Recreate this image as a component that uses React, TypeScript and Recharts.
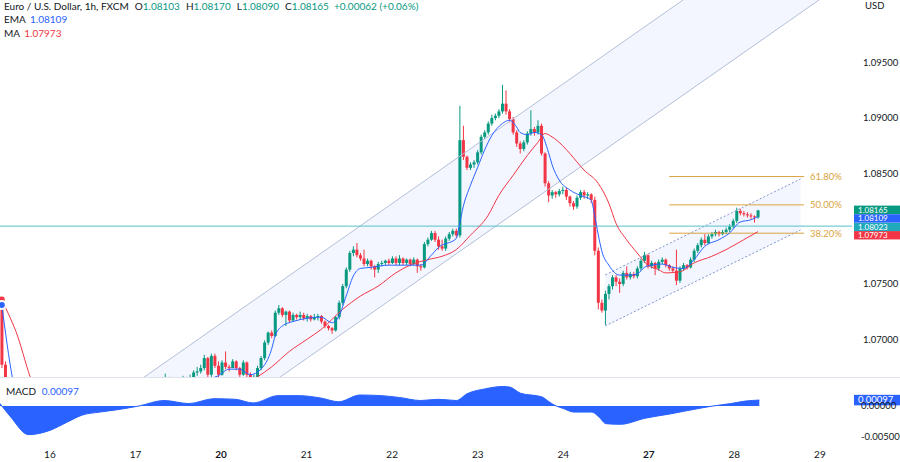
import React from "react";
import { ComposedChart, Bar, Line, Area, XAxis, YAxis, ReferenceLine } from "recharts";

// Prices are kept in pip offsets: price = 1 + value / 10000 (816.5 -> 1.08165)
const FIRST_OPEN = 733;

const closes = [
  677, 648, 632, 618, 600, 585, 570, 560, 556, 560, 566, 575, 578, 580,
  // 16
  582, 585, 588, 590, 586, 583, 590, 600, 612, 620, 618, 610, 600, 592, 585, 590, 598, 605, 612, 618, 622, 625, 628, 630,
  // 17
  632, 636, 640, 645, 650, 655, 658, 660, 664, 661, 663, 660, 662, 664, 662, 665, 670, 671, 674, 683, 668, 685, 676, 668,
  // 20
  679, 675, 674, 680, 674, 668, 679, 668, 662, 666, 674, 683, 697, 706, 703, 724, 728, 722, 725, 717, 722, 720, 722, 719,
  // 21
  721, 718, 720, 721, 716, 712, 710, 708, 720, 733, 748, 763, 778, 781, 776, 773, 768, 771, 766, 763, 768, 769, 771, 769,
  // 22
  773, 769, 773, 769, 772, 768, 772, 766, 765, 786, 790, 796, 790, 784, 782, 791, 795, 798, 794, 880, 865, 855, 858, 860,
  // 23
  869, 883, 887, 895, 900, 902, 906, 913, 906, 899, 887, 877, 872, 878, 886, 890, 887, 893, 868, 841, 830, 833, 831, 834,
  // 24
  835, 829, 823, 820, 828, 833, 830, 831, 826, 780, 733, 726, 741, 748, 756, 752, 750, 760, 756, 759, 757, 764, 771, 776,
  // 27
  766, 769, 764, 770, 772, 767, 764, 762, 753, 764, 767, 765, 772, 780, 785, 790, 787, 793, 795, 797, 795, 797, 799, 802,
  // 28
  807, 816, 814, 813, 812, 811, 810.3, 816.5,
];

const highs = [
  738, 680, 650, 635, 620, 602, 588, 574, 564, 565, 570, 578, 582, 584,
  586, 589, 592, 594, 592, 588, 593, 603, 615, 624, 623, 620, 612, 603, 595, 593, 601, 608, 615, 621, 625, 628, 631, 633,
  635, 639, 643, 648, 653, 658, 661, 663, 669, 666, 666, 665, 665, 667, 666, 668, 672, 675, 677, 686, 684, 687, 687, 680,
  681, 689, 677, 682, 681, 675, 681, 680, 670, 668, 676, 685, 699, 707, 708, 726, 731, 729, 726, 726, 724, 723, 725, 724,
  723, 722, 723, 723, 722, 717, 713, 711, 721, 735, 750, 765, 780, 784, 787, 778, 781, 773, 772, 767, 770, 771, 772, 773,
  775, 775, 776, 774, 773, 773, 774, 773, 768, 788, 792, 798, 798, 793, 790, 793, 797, 800, 800, 911, 893, 866, 860, 862,
  871, 885, 889, 897, 903, 904, 908, 930, 925, 908, 901, 889, 879, 880, 888, 907, 892, 898, 895, 869, 843, 835, 834, 836,
  838, 837, 830, 825, 830, 835, 835, 833, 832, 829, 783, 736, 744, 750, 758, 758, 755, 762, 766, 761, 761, 766, 773, 779,
  777, 771, 770, 772, 774, 773, 768, 766, 781, 766, 769, 768, 774, 782, 787, 792, 795, 795, 797, 799, 798, 799, 801, 804,
  809, 819, 818, 816, 815, 814, 812, 817,
];

const lows = [
  674, 640, 628, 612, 596, 580, 566, 552, 550, 553, 560, 562, 572, 574,
  578, 580, 583, 586, 583, 579, 581, 588, 598, 610, 614, 607, 597, 589, 582, 583, 588, 596, 603, 610, 616, 620, 623, 626,
  628, 631, 634, 638, 643, 648, 653, 656, 659, 658, 659, 657, 658, 660, 659, 660, 664, 667, 669, 672, 664, 666, 674, 665,
  667, 673, 671, 674, 672, 666, 667, 665, 658, 660, 664, 672, 681, 695, 701, 702, 722, 720, 712, 715, 716, 718, 718, 717,
  716, 716, 717, 717, 714, 710, 708, 705, 707, 718, 731, 746, 761, 775, 774, 771, 766, 766, 763, 756, 760, 766, 767, 767,
  768, 767, 767, 767, 767, 766, 767, 760, 762, 764, 784, 789, 788, 781, 780, 780, 789, 793, 792, 792, 862, 853, 853, 855,
  858, 867, 881, 885, 893, 898, 900, 904, 903, 896, 885, 874, 868, 870, 876, 884, 884, 885, 866, 838, 824, 827, 828, 829,
  831, 826, 820, 817, 818, 826, 827, 827, 823, 776, 727, 724, 713, 736, 745, 748, 742, 748, 754, 754, 755, 755, 762, 769,
  764, 764, 758, 762, 768, 765, 762, 760, 749, 751, 762, 763, 764, 770, 778, 783, 785, 786, 791, 793, 793, 794, 795, 797,
  800, 805, 812, 811, 810, 809, 805.5, 809,
];

// indicator readings [bar, pips]
const emaPoints = [
  [0, 731], [3, 665], [6, 625], [15, 588], [35, 617], [50, 652], [57, 663], [61, 667], [64, 673], [67, 673],
  [70, 668], [73, 673], [76, 691], [77, 703], [79, 712], [82, 716], [86, 719], [90, 720], [93, 715], [95, 721],
  [97, 739], [99, 757], [101, 764], [104, 765], [109, 767], [118, 767], [121, 776], [123, 783], [128, 791], [129, 805],
  [130, 820], [132, 839], [134, 855], [136, 871], [138, 884], [141, 895], [143, 898], [145, 892], [146, 887], [148, 885],
  [150, 887], [152, 885], [154, 869], [155, 858], [157, 844], [160, 835], [163, 830], [166, 826], [167, 812], [168, 795],
  [169, 780], [171, 767], [174, 758], [177, 758], [179, 759], [181, 765], [183, 767], [186, 768], [189, 765], [192, 764],
  [195, 772], [198, 784], [202, 790], [205, 796], [208, 806], [211, 808], [213, 810.9],
];

const maPoints = [
  [0, 736], [2, 722], [4, 707], [8, 666], [20, 595], [45, 628], [62, 655], [72, 666], [76, 675], [81, 689],
  [86, 700], [90, 709], [96, 727], [101, 739], [106, 748], [111, 760], [115, 767], [120, 772], [124, 775], [128, 781],
  [132, 794], [137, 812], [140, 830], [144, 848], [148, 866], [151, 878], [153, 886], [155, 883], [158, 875], [160, 868],
  [164, 853], [168, 841], [171, 823], [173, 805], [176, 790], [179, 778], [182, 767], [185, 763], [187, 760], [191, 761],
  [195, 769], [200, 775], [204, 781], [209, 790], [213, 797.3],
];

const macdPoints = [
  [0, 0.0004], [3, -0.0018], [8, -0.0047], [14, -0.004], [19, -0.0026], [23, -0.0015], [28, -0.001], [33, -0.0006],
  [39, 0], [46, 0.0009], [53, 0.0004], [60, 0.0012], [66, 0.0011], [71, 0.0005], [78, 0.0017], [84, 0.0017],
  [90, 0.0013], [95, 0.0007], [101, 0.0018], [107, 0.0017], [112, 0.0014], [118, 0.0009], [123, 0.0011], [128, 0.0009],
  [131, 0.002], [136, 0.0028], [141, 0.0032], [143, 0.0031], [146, 0.0021], [152, 0.0015], [154, 0.0007], [156, 0],
  [158, -0.0004], [161, -0.001], [166, -0.001], [168, -0.0018], [170, -0.0029], [174, -0.003], [181, -0.002],
  [188, -0.0013], [197, -0.0003], [200, 0], [205, 0.0004], [209, 0.0008], [213, 0.00097],
];

const dayStarts = [14, 38, 62, 86, 110, 134, 158, 182, 206, 230];
const dayLabels = ["16", "17", "20", "21", "22", "23", "24", "27", "28", "29"];
const boldDays = ["20", "27"];

const priceTicks = [1.07, 1.075, 1.085, 1.09, 1.095];
const macdTicks = [-0.005, 0];
const hLinePrice = 1.08023;

const fibLevels = [
  { label: "61.80%", price: 1.08471 },
  { label: "50.00%", price: 1.08215 },
  { label: "38.20%", price: 1.07959 },
];
const fibFrom = 188;
const fibTo = 226;

const bigChannel = { from: 30, to: 239, upper: [1.06431, 1.11125], lower: [1.05571, 1.10265] };
const smallChannel = { from: 170, to: 225, upper: [1.07582, 1.08449], lower: [1.07121, 1.07988] };

const SLOTS = 240;
const PRICE_DOMAIN = [1.06659, 1.10067];
const MACD_DOMAIN = [-0.00574, 0.00459];

const UP = "#089981";
const DOWN = "#f23645";
const EMA_COLOR = "#2962ff";
const MA_COLOR = "#f23645";
const FIB = "#d9a441";
const HLINE = "#55c1cc";
const TEXT = "#131722";
const FONT = "Lato, 'Noto Sans', sans-serif";

document.body.style.margin = "0";

const px = (v: number) => 1 + v / 10000;
const fmt = (v: number) => v.toFixed(5);

const rows: any[] = Array.from({ length: SLOTS }, (_, i) => ({ i }));
closes.forEach((c, i) => {
  const o = i === 0 ? FIRST_OPEN : closes[i - 1];
  const r = rows[i];
  r.o = px(o);
  r.c = px(c);
  r.h = px(highs[i]);
  r.l = px(lows[i]);
  r.range = [r.l, r.h];
});
emaPoints.forEach(([i, v]) => (rows[i].ema = px(v)));
maPoints.forEach(([i, v]) => (rows[i].ma = px(v)));
macdPoints.forEach(([i, v]) => (rows[i].macd = v));

[bigChannel, smallChannel].forEach((ch, k) => {
  const key = k === 0 ? "big" : "small";
  rows[ch.from][key + "Up"] = ch.upper[0];
  rows[ch.to][key + "Up"] = ch.upper[1];
  rows[ch.from][key + "Lo"] = ch.lower[0];
  rows[ch.to][key + "Lo"] = ch.lower[1];
  rows[ch.from][key + "Band"] = [ch.lower[0], ch.upper[0]];
  rows[ch.to][key + "Band"] = [ch.lower[1], ch.upper[1]];
});

const last = closes.length - 1;
const lastOpen = px(closes[last - 1]);
const lastClose = px(closes[last]);
const lastHigh = px(highs[last]);
const lastLow = px(lows[last]);
const change = lastClose - lastOpen;
const lastEma = px(emaPoints[emaPoints.length - 1][1]);
const lastMa = px(maPoints[maPoints.length - 1][1]);
const lastMacd = macdPoints[macdPoints.length - 1][1];

const Candle = (props: any) => {
  const { x, y, width, height, payload } = props;
  if (!payload || payload.c == null) return null;
  const { o, h, l, c } = payload;
  const span = h - l || 1e-9;
  const toY = (v: number) => y + ((h - v) / span) * height;
  const color = c >= o ? UP : DOWN;
  const top = toY(Math.max(o, c));
  const bottom = toY(Math.min(o, c));
  const cx = x + width / 2;
  return (
    <g>
      <line x1={cx} x2={cx} y1={y} y2={y + height} stroke={color} strokeWidth={1} />
      <rect x={x} y={top} width={width} height={Math.max(1, bottom - top)} fill={color} />
    </g>
  );
};

const PriceTag = (props: any) => {
  const { viewBox, text, bg, dy = 0, h = 8.4, size = 8 } = props;
  if (!viewBox) return null;
  const x = viewBox.x + viewBox.width + 2;
  const y = viewBox.y + dy;
  return (
    <g>
      <rect x={x} y={y - h / 2} width={46} height={h} fill={bg} />
      <text x={x + 4} y={y} dy="0.36em" fontSize={size} fill="#fff" fontFamily={FONT}>
        {text}
      </text>
    </g>
  );
};

const DayTick = (props: any) => {
  const { x, y, payload } = props;
  const label = dayLabels[dayStarts.indexOf(payload.value)] ?? "";
  return (
    <text
      x={x}
      y={y}
      dy="0.71em"
      textAnchor="middle"
      fontSize={10}
      fontWeight={boldDays.includes(label) ? 700 : 400}
      fill={TEXT}
      fontFamily={FONT}
    >
      {label}
    </text>
  );
};

const axisTick = { fontSize: 9.5, fill: TEXT, fontFamily: FONT };

export default function App() {
  return (
    <div style={{ position: "fixed", left: 0, top: 0, width: 900, height: 462, background: "#fff", overflow: "hidden", fontFamily: FONT }}>
      <ComposedChart width={900} height={377} data={rows} margin={{ top: 0, right: 0, bottom: 0, left: 0 }} barCategoryGap="12%">
        <XAxis dataKey="i" hide />
        <YAxis
          orientation="right"
          width={48}
          domain={PRICE_DOMAIN}
          allowDataOverflow
          ticks={priceTicks}
          interval={0}
          tickFormatter={fmt}
          axisLine={false}
          tickLine={false}
          tickSize={6}
          tickMargin={5}
          tick={axisTick}
        />
        <Area dataKey="bigBand" type="linear" connectNulls stroke="none" fill="#2962ff" fillOpacity={0.055} isAnimationActive={false} />
        <Line dataKey="bigUp" type="linear" connectNulls stroke="#b3bfd8" strokeWidth={1} dot={false} isAnimationActive={false} />
        <Line dataKey="bigLo" type="linear" connectNulls stroke="#b3bfd8" strokeWidth={1} dot={false} isAnimationActive={false} />
        <Area dataKey="smallBand" type="linear" connectNulls stroke="none" fill="#2962ff" fillOpacity={0.055} isAnimationActive={false} />
        <Line dataKey="smallUp" type="linear" connectNulls stroke="#7d94cf" strokeWidth={1} strokeDasharray="2 2" dot={false} isAnimationActive={false} />
        <Line dataKey="smallLo" type="linear" connectNulls stroke="#7d94cf" strokeWidth={1} strokeDasharray="2 2" dot={false} isAnimationActive={false} />
        {fibLevels.map((f) => (
          <ReferenceLine
            key={f.label}
            segment={[{ x: fibFrom, y: f.price }, { x: fibTo, y: f.price }]}
            stroke={FIB}
            strokeWidth={1}
            label={{ value: f.label, position: "right", offset: 6, fill: FIB, fontSize: 9.5, fontFamily: FONT }}
          />
        ))}
        <ReferenceLine y={hLinePrice} stroke={HLINE} strokeWidth={1} />
        <Line dataKey="ma" type="monotone" connectNulls stroke={MA_COLOR} strokeWidth={1} dot={false} isAnimationActive={false} />
        <Line dataKey="ema" type="monotone" connectNulls stroke={EMA_COLOR} strokeWidth={1} dot={false} isAnimationActive={false} />
        <Bar dataKey="range" shape={<Candle />} isAnimationActive={false} />
        <ReferenceLine y={lastMa} stroke="none" label={<PriceTag text={fmt(lastMa)} bg={DOWN} dy={3.6} />} />
        <ReferenceLine y={hLinePrice} stroke="none" label={<PriceTag text={fmt(hLinePrice)} bg="#1fa9bb" dy={0.8} />} />
        <ReferenceLine y={lastEma} stroke="none" label={<PriceTag text={fmt(lastEma)} bg={EMA_COLOR} dy={1.8} />} />
        <ReferenceLine y={lastClose} stroke="none" label={<PriceTag text={fmt(lastClose)} bg={UP} dy={-0.6} />} />
      </ComposedChart>

      <div style={{ position: "absolute", left: 0, top: 377 }}>
        <ComposedChart width={900} height={85} data={rows} margin={{ top: 1, right: 0, bottom: 0, left: 0 }}>
          <XAxis dataKey="i" ticks={dayStarts} interval={0} tick={<DayTick />} axisLine={false} tickLine={false} height={21} tickMargin={4} />
          <YAxis
            orientation="right"
            width={48}
            domain={MACD_DOMAIN}
            allowDataOverflow
            ticks={macdTicks}
            interval={0}
            tickFormatter={fmt}
            axisLine={false}
            tickLine={false}
            tickSize={6}
            tickMargin={3}
            tick={axisTick}
          />
          <Area dataKey="macd" type="monotone" connectNulls baseValue={0} stroke="#2962ff" strokeWidth={1} fill="#2962ff" fillOpacity={1} isAnimationActive={false} />
          <ReferenceLine y={lastMacd} stroke="none" label={<PriceTag text={fmt(lastMacd)} bg="#2962ff" h={10.5} size={9.5} />} />
        </ComposedChart>
      </div>

      <div style={{ position: "absolute", left: 0, top: 377, width: 900, height: 1, background: "#e0e3eb" }} />

      <div style={{ position: "absolute", left: 4, top: 0, fontSize: 10, lineHeight: "13.3px", color: TEXT, whiteSpace: "nowrap" }}>
        <div>
          Euro / U.S. Dollar, 1h, FXCM
          <span style={{ marginLeft: 6 }}>O<span style={{ color: UP }}>{fmt(lastOpen)}</span></span>
          <span style={{ marginLeft: 6 }}>H<span style={{ color: UP }}>{fmt(lastHigh)}</span></span>
          <span style={{ marginLeft: 6 }}>L<span style={{ color: UP }}>{fmt(lastLow)}</span></span>
          <span style={{ marginLeft: 6 }}>C<span style={{ color: UP }}>{fmt(lastClose)}</span></span>
          <span style={{ marginLeft: 5, color: UP }}>
            {(change >= 0 ? "+" : "") + fmt(change)} ({(change >= 0 ? "+" : "") + ((change / lastOpen) * 100).toFixed(2)}%)
          </span>
        </div>
        <div>
          EMA <span style={{ color: EMA_COLOR, marginLeft: 2 }}>{fmt(lastEma)}</span>
        </div>
        <div>
          MA <span style={{ color: MA_COLOR, marginLeft: 2 }}>{fmt(lastMa)}</span>
        </div>
      </div>

      <div style={{ position: "absolute", left: 865, top: 0, fontSize: 9.5, lineHeight: "11px", color: TEXT }}>USD</div>

      <div style={{ position: "absolute", left: 6, top: 385, fontSize: 10, lineHeight: "13px", color: TEXT, whiteSpace: "nowrap" }}>
        MACD <span style={{ color: EMA_COLOR, marginLeft: 3 }}>{fmt(lastMacd)}</span>
      </div>
    </div>
  );
}
